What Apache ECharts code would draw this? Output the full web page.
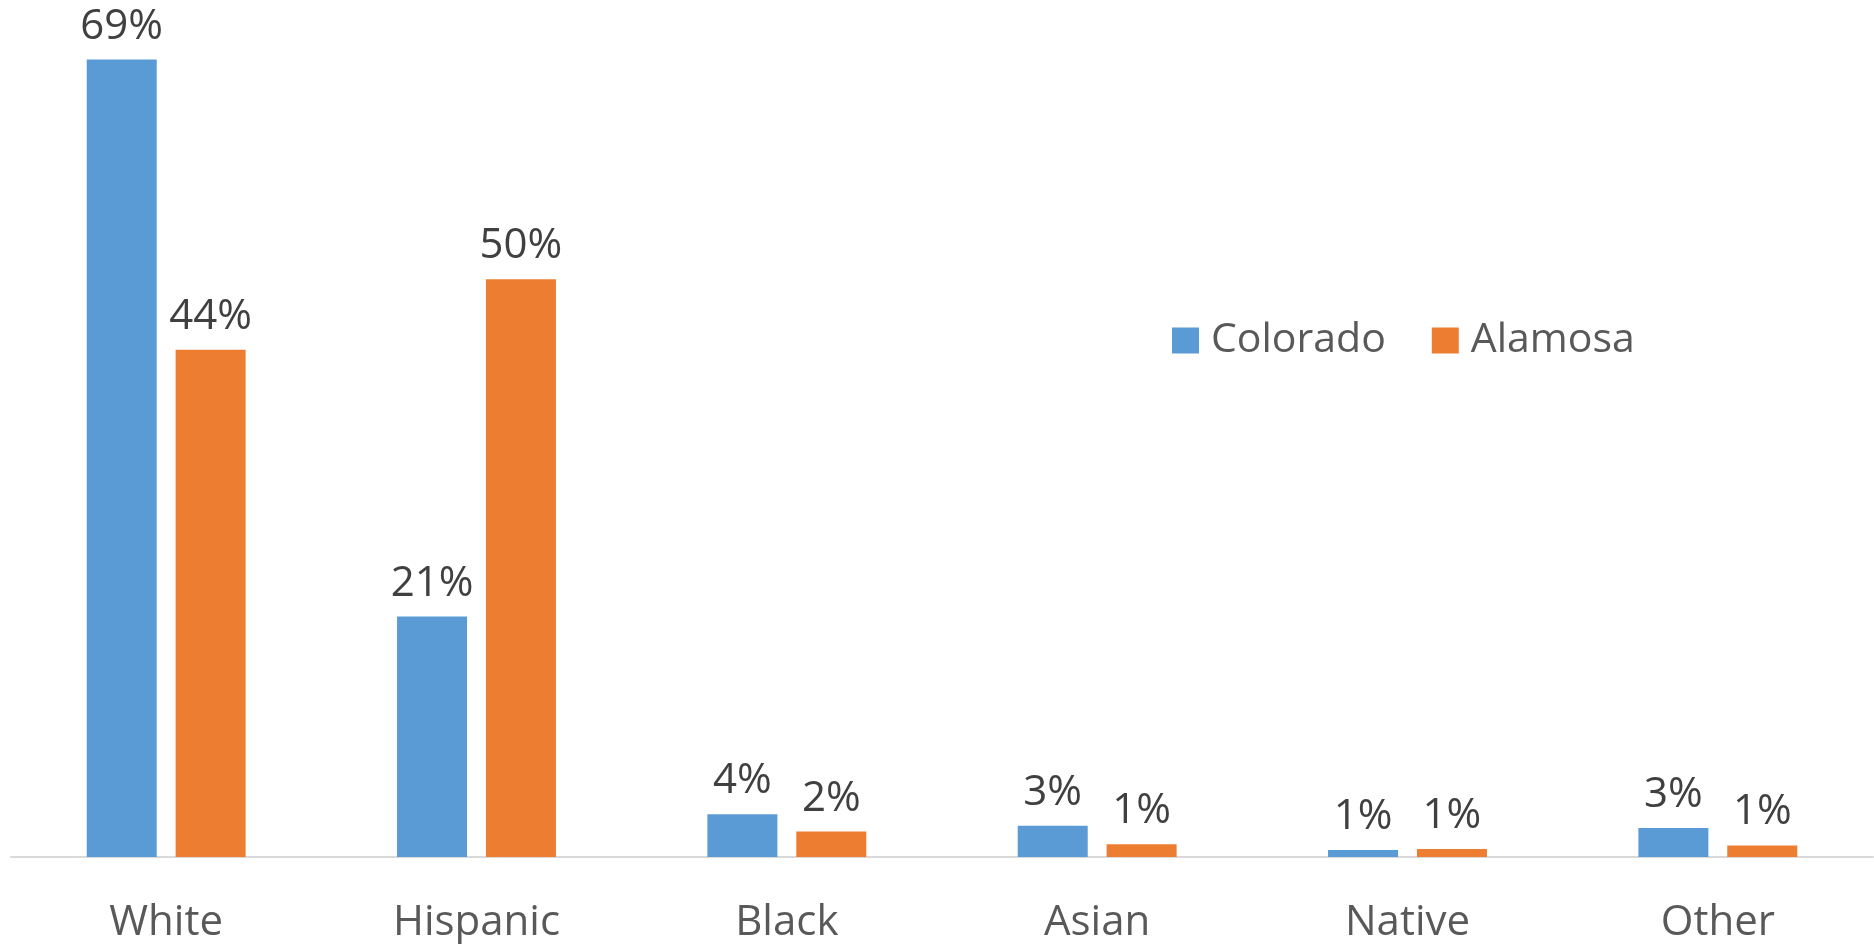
<!DOCTYPE html>
<html>
<head>
<meta charset="utf-8">
<script src="https://cdn.jsdelivr.net/npm/echarts@6/dist/echarts.min.js"></script>
<style>
html,body{margin:0;padding:0;background:#fff;}
#chart{width:1874px;height:944px;}
</style>
</head>
<body>
<div id="chart"></div>
<script>
const categories = ['White', 'Hispanic', 'Black', 'Asian', 'Native', 'Other'];
const colorado = [69.0, 20.8, 3.7, 2.7, 0.6, 2.5];
const alamosa = [43.9, 50.0, 2.2, 1.1, 0.7, 1.0];
const seriesNames = ['Colorado', 'Alamosa'];

const FONT = 'Open Sans';
const chart = echarts.init(document.getElementById('chart'));
const labelCfg = {
  show: true,
  position: 'top',
  distance: 12,
  color: '#404040',
  fontFamily: FONT,
  fontSize: 42,
  formatter: p => Math.round(p.value) + '%'
};
chart.setOption({
  animation: false,
  legend: {
    data: seriesNames,
    left: 1172,
    top: 320,
    padding: 0,
    itemWidth: 27,
    itemHeight: 26,
    itemGap: 46,
    icon: 'rect',
    textStyle: { color: '#595959', fontFamily: FONT, fontSize: 41, padding: [0, 0, 0, 7] }
  },
  grid: { left: 11, right: 1, top: 48, bottom: 85, containLabel: false },
  xAxis: {
    type: 'category',
    data: categories,
    axisLine: { lineStyle: { color: '#d9d9d9', width: 2 } },
    axisTick: { show: false },
    axisLabel: { color: '#595959', fontFamily: FONT, fontSize: 42, margin: 45 }
  },
  yAxis: {
    type: 'value',
    min: 0,
    max: 70,
    show: false,
    splitLine: { show: false }
  },
  series: [
    {
      name: seriesNames[0],
      type: 'bar',
      data: colorado,
      barWidth: 70,
      barGap: '27%',
      itemStyle: { color: '#5b9bd5' },
      label: labelCfg
    },
    {
      name: seriesNames[1],
      type: 'bar',
      data: alamosa,
      barWidth: 70,
      barGap: '27%',
      itemStyle: { color: '#ed7d31' },
      label: labelCfg
    }
  ]
});
</script>
</body>
</html>
